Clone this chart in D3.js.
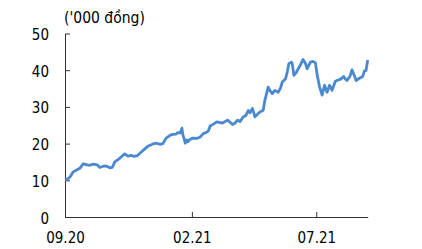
<!DOCTYPE html>
<html>
<head>
<meta charset="utf-8">
<script src="https://cdn.jsdelivr.net/npm/d3@7"></script>
<style>
  body { margin: 0; background: #fff; }
  svg text { font-family: "DejaVu Sans Condensed", "DejaVu Sans", sans-serif; fill: #000; }
</style>
</head>
<body>
<div id="chart"></div>
<script>
const dates = [
  "2020-09-01", "2020-09-05", "2020-09-07", "2020-09-11", "2020-09-15", "2020-09-19", "2020-09-23", "2020-09-28",
  "2020-10-01", "2020-10-05", "2020-10-10", "2020-10-13", "2020-10-18", "2020-10-22", "2020-10-25", "2020-10-28",
  "2020-10-31", "2020-11-06", "2020-11-12", "2020-11-16", "2020-11-20", "2020-11-23", "2020-11-27", "2020-11-30",
  "2020-12-07", "2020-12-10", "2020-12-16", "2020-12-20", "2020-12-25", "2020-12-28", "2021-01-01", "2021-01-06",
  "2021-01-09", "2021-01-13", "2021-01-15", "2021-01-18", "2021-01-20", "2021-01-21", "2021-01-23", "2021-01-24",
  "2021-01-26", "2021-01-27", "2021-01-30", "2021-02-02", "2021-02-07", "2021-02-11", "2021-02-15", "2021-02-18",
  "2021-02-21", "2021-02-23", "2021-02-27", "2021-03-03", "2021-03-10", "2021-03-16", "2021-03-19", "2021-03-22",
  "2021-03-25", "2021-03-28", "2021-03-31", "2021-04-04", "2021-04-07", "2021-04-10", "2021-04-12", "2021-04-15",
  "2021-04-18", "2021-04-22", "2021-04-24", "2021-04-28", "2021-04-30", "2021-05-04", "2021-05-06", "2021-05-09",
  "2021-05-12", "2021-05-16", "2021-05-19", "2021-05-21", "2021-05-25", "2021-05-27", "2021-05-29", "2021-06-01",
  "2021-06-02", "2021-06-04", "2021-06-07", "2021-06-08", "2021-06-12", "2021-06-15", "2021-06-18", "2021-06-20",
  "2021-06-24", "2021-06-27", "2021-06-30", "2021-07-02", "2021-07-05", "2021-07-07", "2021-07-08", "2021-07-11",
  "2021-07-12", "2021-07-14", "2021-07-17", "2021-07-19", "2021-07-20", "2021-07-24", "2021-07-28", "2021-07-30",
  "2021-08-03", "2021-08-05", "2021-08-07", "2021-08-11", "2021-08-13", "2021-08-16", "2021-08-18", "2021-08-22",
  "2021-08-26", "2021-08-28", "2021-08-30", "2021-09-01"
];
const prices = [
  10.2, 10.5, 10.9, 12.3, 12.8, 13.3, 14.5, 14.2,
  14.1, 14.4, 14.2, 13.5, 13.9, 13.8, 13.4, 13.5,
  15.0, 16.0, 17.2, 16.6, 16.8, 16.5, 16.7, 17.3,
  18.7, 19.3, 19.9, 20.1, 19.8, 20.0, 21.5, 22.3,
  22.5, 22.6, 23.0, 22.9, 24.2, 22.5, 21.0, 20.1,
  21.0, 20.5, 21.2, 21.5, 21.4, 21.8, 22.8, 23.0,
  23.5, 24.8, 25.3, 25.9, 25.6, 26.4, 25.8, 25.2,
  25.6, 26.4, 26.0, 27.3, 27.6, 29.0, 28.4, 29.6,
  27.3, 28.2, 28.6, 29.1, 31.8, 35.4, 34.5, 33.6,
  34.5, 34.0, 35.2, 36.8, 37.7, 39.5, 41.8, 42.2,
  41.8, 38.6, 39.4, 39.9, 41.5, 42.9, 41.8, 40.4,
  42.2, 42.4, 42.0, 38.8, 35.4, 34.0, 33.2, 35.9,
  35.2, 34.0, 35.9, 35.0, 34.5, 37.0, 37.4, 37.5,
  38.3, 37.6, 37.2, 38.5, 40.1, 38.5, 37.2, 37.8,
  38.3, 39.8, 39.9, 42.8
];
const x_ticks = ["2020-09-01", "2021-02-01", "2021-07-01"];
const y_ticks = [0, 10, 20, 30, 40, 50];
const unit_label = "('000 đồng)";

const width = 422, height = 249;
const font_size = 15;
const parseDate = d3.timeParse("%Y-%m-%d");

const svg = d3.select("#chart").append("svg")
  .attr("width", width)
  .attr("height", height)
  .style("display", "block");

const x_axis = d3.scaleTime()
  .domain([parseDate("2020-09-01"), parseDate("2021-09-01")])
  .range([65, 367.7]);
const y_axis = d3.scaleLinear()
  .domain([0, 50])
  .range([217, 33.5]);

// y axis, ticks point inward
svg.append("g")
  .attr("transform", "translate(65,0)")
  .call(d3.axisLeft(y_axis).tickValues(y_ticks).tickSizeInner(-5).tickSizeOuter(0).tickPadding(16))
  .call(g => g.selectAll("text").attr("font-size", font_size).attr("dy", "0.4em"))
  .call(g => g.selectAll("path, line").attr("stroke", "#333"));

// x axis
svg.append("g")
  .attr("transform", "translate(0,217)")
  .call(d3.axisBottom(x_axis)
    .tickValues(x_ticks.map(parseDate))
    .tickFormat(d3.timeFormat("%m.%y"))
    .tickSizeInner(-5).tickSizeOuter(0).tickPadding(15))
  .call(g => g.selectAll("text").attr("font-size", font_size))
  .call(g => g.selectAll("path, line").attr("stroke", "#333"));

svg.append("text")
  .attr("x", 64)
  .attr("y", 23)
  .attr("font-size", 15.5)
  .text(unit_label);

const data = dates.map((d, i) => [parseDate(d), prices[i]]);

svg.append("path")
  .datum(data)
  .attr("fill", "none")
  .attr("stroke", "#4a89cf")
  .attr("stroke-width", 2.8)
  .attr("stroke-linejoin", "round")
  .attr("d", d3.line()
    .x(d => x_axis(d[0]))
    .y(d => y_axis(d[1])));
</script>
</body>
</html>
